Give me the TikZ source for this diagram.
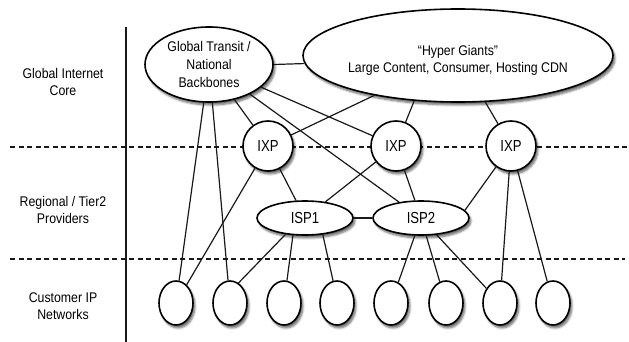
\documentclass[tikz,border=0pt]{standalone}
\usepackage{fontspec}
\setmainfont{Liberation Sans}[FakeStretch=0.88]
\newfontfamily\nodefont{Liberation Sans}[FakeStretch=0.82]
\usetikzlibrary{shapes.geometric,shadows.blur}
\begin{document}
\begin{tikzpicture}[x=1pt,y=-1pt,
  shapeline/.style={draw=black, line width=1.6pt, fill=white,
    blur shadow={shadow xshift=2pt, shadow yshift=-3pt, shadow blur steps=6, shadow opacity=60}},
  bigell/.style={shapeline, ellipse, inner sep=0pt},
  ixpnode/.style={shapeline, circle, minimum size=50pt, inner sep=0pt, font=\nodefont\fontsize{16}{18}\selectfont},
  ispnode/.style={shapeline, ellipse, minimum width=96pt, minimum height=34pt, inner sep=0pt, font=\nodefont\fontsize{16}{18}\selectfont},
  cust/.style={shapeline, ellipse, minimum width=34pt, minimum height=44pt, inner sep=0pt},
  layerlabel/.style={align=center, font=\fontsize{14}{17.5}\selectfont, text=black},
  link/.style={draw=black!90, line width=1.2pt},
  tierline/.style={draw=black!90, line width=1.3pt, dash pattern=on 5pt off 3.5pt},
  divider/.style={draw=black!90, line width=1.4pt}
]
\useasboundingbox (0,0) rectangle (629,342);

% layer separators
\draw[tierline] (10,147) -- (629,147);
\draw[tierline] (10,259) -- (625,259);
\draw[divider] (126,27) -- (126,342);

% layer labels
\node[layerlabel] (l1) at (63,82) {Global Internet\\Core};
\node[layerlabel] (l2) at (63,210) {Regional / Tier2\\Providers};
\node[layerlabel] (l3) at (63,306) {Customer IP\\Networks};

% core
\node[bigell, minimum width=128pt, minimum height=75pt, align=center,
      font=\fontsize{14}{18}\selectfont, text=black] (gt) at (209,64.5)
      {Global Transit /\\National\\Backbones};
\node[bigell, minimum width=310pt, minimum height=93pt] (hg) at (458,55.5) {};
\node[align=center, font=\fontsize{14}{17}\selectfont, text=black] (hgtext) at (458,60)
      {``Hyper Giants''\\Large Content, Consumer, Hosting CDN};

% IXPs
\node[ixpnode] (ixp1) at (268,146) {IXP};
\node[ixpnode] (ixp2) at (396,146) {IXP};
\node[ixpnode] (ixp3) at (511,146) {IXP};

% ISPs
\node[ispnode] (isp1) at (305,218) {ISP1};
\node[ispnode] (isp2) at (421,218) {ISP2};

% customers
\node[cust] (c1) at (176,303) {};
\node[cust] (c2) at (230,303) {};
\node[cust] (c3) at (284,303) {};
\node[cust] (c4) at (337,303) {};
\node[cust] (c5) at (391,303) {};
\node[cust] (c6) at (446,303) {};
\node[cust] (c7) at (500,303) {};
\node[cust] (c8) at (553,303) {};

% connectors
\draw[link] (gt.east) -- (hg.183);
\draw[link] (gt) -- (c1);
\draw[link] (gt) -- (c2);
\draw[link] (gt) -- (ixp1);
\draw[link] (gt) -- (ixp2);
\draw[link] (gt) -- (isp2);
\draw[link] (hg) -- (ixp1);
\draw[link] (hg.226) -- (ixp2);
\draw[link] (hg) -- (ixp3);
\draw[link] (ixp1) -- (c1);
\draw[link] (ixp1) -- (isp1);
\draw[link] (ixp2) -- (isp1);
\draw[link] (ixp2) -- (isp2);
\draw[link] (ixp3) -- (isp2.10);
\draw[link] (ixp3) -- (c7);
\draw[link] (ixp3) -- (c8);
\draw[link] (isp1) -- (isp2);
\draw[link] (isp1.220) -- (c2.67);
\draw[link] (isp1.235) -- (c3);
\draw[link] (isp1.317) -- (c4.100);
\draw[link] (isp2) -- (c5);
\draw[link] (isp2) -- (c6);
\draw[link] (isp2) -- (c7);
\end{tikzpicture}
\end{document}
